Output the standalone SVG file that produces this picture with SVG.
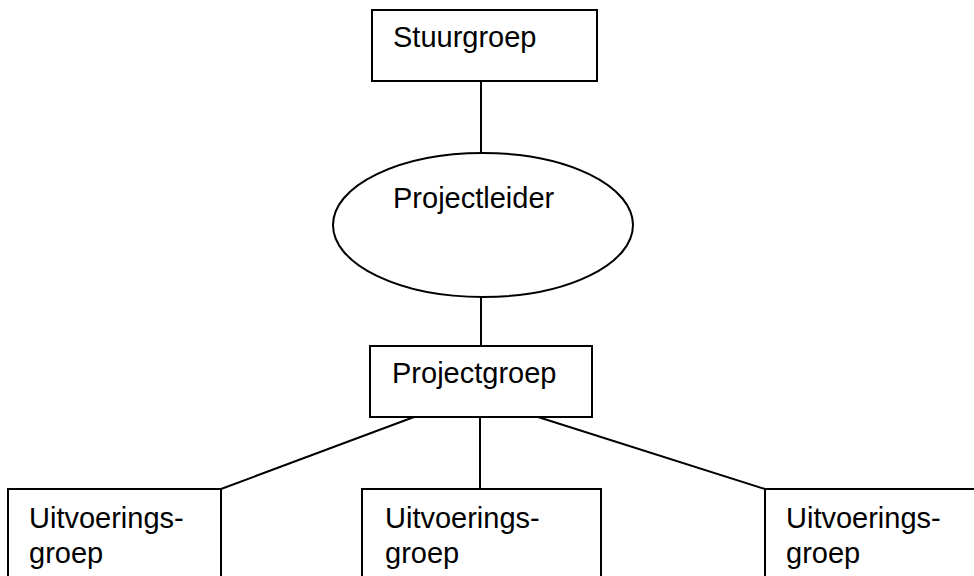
<svg xmlns="http://www.w3.org/2000/svg" width="974" height="576" viewBox="0 0 974 576">
<style>
.n{fill:#fff;stroke:#000;stroke-width:2}
.c line{stroke:#000;stroke-width:2}
text{font-family:"Liberation Sans",Arial,sans-serif;font-size:29px;fill:#000}
</style>
<rect width="974" height="576" fill="#fff"/>
<g class="c" id="connectors">
<line x1="481" y1="81" x2="481" y2="153"/>
<line x1="481" y1="297" x2="481" y2="346"/>
<line x1="414" y1="417" x2="221" y2="489"/>
<line x1="480" y1="417" x2="480" y2="489"/>
<line x1="538" y1="417" x2="765" y2="489"/>
</g>
<g id="stuurgroep">
<rect class="n" x="372" y="10" width="225" height="71"/>
<text x="393" y="47">Stuurgroep</text>
</g>
<g id="projectleider">
<ellipse class="n" cx="483" cy="225" rx="150" ry="72"/>
<text x="393" y="208">Projectleider</text>
</g>
<g id="projectgroep">
<rect class="n" x="370" y="346" width="222" height="71"/>
<text x="392" y="383">Projectgroep</text>
</g>
<g id="uitvoering1">
<rect class="n" x="8" y="489" width="213" height="100"/>
<text x="29" y="528">Uitvoerings-</text>
<text x="29" y="563">groep</text>
</g>
<g id="uitvoering2">
<rect class="n" x="362" y="489" width="239" height="100"/>
<text x="385" y="528">Uitvoerings-</text>
<text x="385" y="563">groep</text>
</g>
<g id="uitvoering3">
<rect class="n" x="765" y="489" width="220" height="100"/>
<text x="786" y="528">Uitvoerings-</text>
<text x="786" y="563">groep</text>
</g>
</svg>
